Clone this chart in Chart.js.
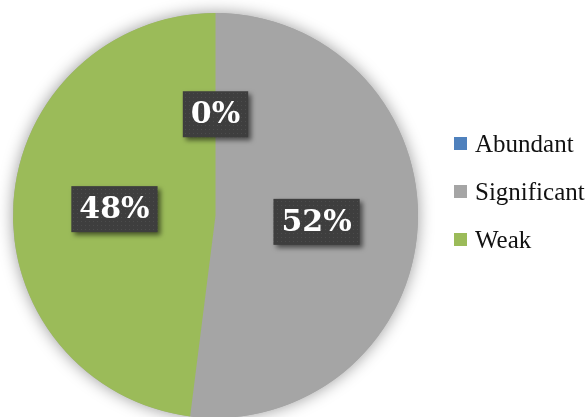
<!DOCTYPE html>
<html>
<head>
<meta charset="utf-8">
<script src="https://cdn.jsdelivr.net/npm/chart.js@4/dist/chart.umd.min.js"></script>
<style>
  html, body { margin: 0; padding: 0; background: #fff; overflow: hidden; }
  canvas { display: block; }
</style>
</head>
<body>
<canvas id="myChart" width="588" height="420"></canvas>
<script>
var labels = ["Abundant", "Significant", "Weak"],
  shares = [0, 52, 48],
  colors = ["#4F81BD", "#A5A5A5", "#9BBB59"];

var serif = "'DejaVu Serif', 'Liberation Serif', serif";

// dotted dark fill for the value boxes
function boxPattern(ctx) {
  var c = document.createElement("canvas");
  c.width = 4;
  c.height = 4;
  var p = c.getContext("2d");
  p.fillStyle = "#3e3e3e";
  p.fillRect(0, 0, 4, 4);
  p.fillStyle = "#4c4c4c";
  p.fillRect(1, 1, 1, 1);
  return ctx.createPattern(c, "repeat");
}

var pieShadow = {
  id: "pieShadow",
  beforeDatasetsDraw: function(chart) {
    var arc = chart.getDatasetMeta(0).data[0],
      ctx = chart.ctx;
    ctx.save();
    ctx.shadowColor = "rgba(0,0,0,0.4)";
    ctx.shadowBlur = 16;
    ctx.fillStyle = "#a5a5a5";
    ctx.beginPath();
    ctx.arc(arc.x, arc.y, arc.outerRadius, 0, Math.PI * 2);
    ctx.fill();
    ctx.restore();
  }
};

var valueBoxes = {
  id: "valueBoxes",
  afterDatasetsDraw: function(chart) {
    var ctx = chart.ctx,
      fill = boxPattern(ctx);
    ctx.save();
    ctx.font = "bold 30px " + serif;
    ctx.textAlign = "center";
    ctx.textBaseline = "middle";
    chart.getDatasetMeta(0).data.forEach(function(arc, i) {
      var pos = arc.tooltipPosition(),
        txt = shares[i] + "%",
        w = ctx.measureText(txt).width + 16,
        h = 46;
      ctx.save();
      ctx.shadowColor = "rgba(0,0,0,0.55)";
      ctx.shadowBlur = 5;
      ctx.shadowOffsetX = 3;
      ctx.shadowOffsetY = 3;
      ctx.fillStyle = fill;
      ctx.fillRect(pos.x - w / 2, pos.y - h / 2, w, h);
      ctx.restore();
      ctx.fillStyle = "#fff";
      ctx.fillText(txt, pos.x, pos.y + 1);
    });
    ctx.restore();
  }
};

var sideLegend = {
  id: "sideLegend",
  afterDraw: function(chart) {
    var ctx = chart.ctx,
      x = 454,
      y = 144,
      step = 48;
    ctx.save();
    ctx.font = "25px 'Liberation Serif', serif";
    ctx.textBaseline = "middle";
    chart.data.labels.forEach(function(lab, i) {
      var cy = y + i * step;
      ctx.fillStyle = chart.data.datasets[0].backgroundColor[i];
      ctx.fillRect(x, cy - 7, 13, 13);
      ctx.fillStyle = "#111";
      ctx.fillText(lab, x + 21, cy + 1);
    });
    ctx.restore();
  }
};

var ctx = document.getElementById("myChart"),
  config = {
    type: "pie",
    data: {
      labels: labels,
      datasets: [
        {
          data: shares,
          backgroundColor: colors,
          borderWidth: 0
        }
      ]
    },
    options: {
      responsive: false,
      devicePixelRatio: 1,
      animation: false,
      layout: { padding: { left: 13, top: 13, right: 170, bottom: 2 } },
      plugins: {
        legend: { display: false },
        tooltip: { enabled: false }
      }
    },
    plugins: [pieShadow, valueBoxes, sideLegend]
  };

var myChart = new Chart(ctx, config);
</script>
</body>
</html>
